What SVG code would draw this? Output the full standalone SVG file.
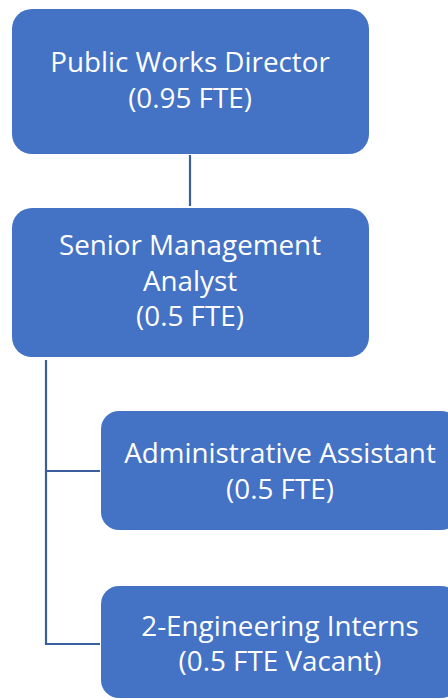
<svg xmlns="http://www.w3.org/2000/svg" width="448" height="700" viewBox="0 0 448 700">
<style>
.box{fill:#4472C4;}
.t{font-family:"Open Sans","Noto Sans",sans-serif;font-size:27.8px;fill:#ffffff;text-anchor:middle;}
.c{stroke:#3B5E9E;stroke-width:2.2;fill:none;}
</style>
<rect width="448" height="700" fill="#ffffff"/>
<g id="connectors">
<line class="c" x1="190" y1="155" x2="190" y2="206"/>
<polyline class="c" points="46,360 46,644 100,644"/>
<line class="c" x1="46" y1="471" x2="100" y2="471"/>
</g>
<g id="director">
<rect class="box" x="12" y="9" width="357" height="145" rx="20"/>
<text class="t" x="190" y="72">Public Works Director</text>
<text class="t" x="190" y="107.5">(0.95 FTE)</text>
</g>
<g id="analyst">
<rect class="box" x="12" y="208" width="357" height="149" rx="20"/>
<text class="t" x="190" y="255">Senior Management</text>
<text class="t" x="190" y="290.5">Analyst</text>
<text class="t" x="190" y="326">(0.5 FTE)</text>
</g>
<g id="admin">
<rect class="box" x="101" y="411" width="358" height="119" rx="18"/>
<text class="t" x="280" y="463">Administrative Assistant</text>
<text class="t" x="280" y="499">(0.5 FTE)</text>
</g>
<g id="interns">
<rect class="box" x="101" y="586" width="358" height="112" rx="18"/>
<text class="t" x="280" y="635.5">2-Engineering Interns</text>
<text class="t" x="280" y="671">(0.5 FTE Vacant)</text>
</g>
</svg>
